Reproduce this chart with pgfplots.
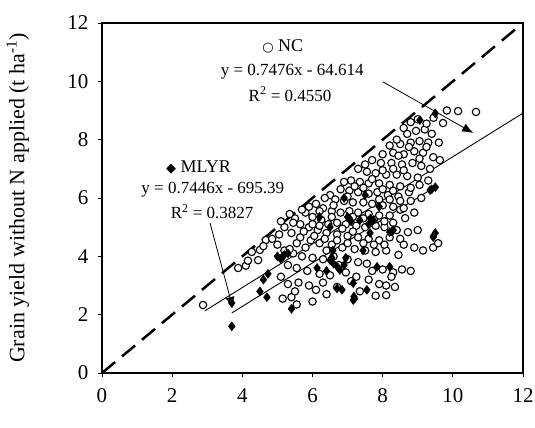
\documentclass[border=0pt]{standalone}
\usepackage{pgfplots}
\pgfplotsset{compat=1.18}
\usepackage{fontspec}
\setmainfont{Liberation Serif}
\newfontfamily\symfont{DejaVu Sans}
\usetikzlibrary{arrows.meta}

% NC: open circles
\pgfplotstableread{
x y
2.88 2.33
3.88 3.60
4.10 3.68
4.16 3.85
4.45 3.87
4.27 4.15
4.50 4.22
4.67 4.56
4.60 4.35
5.00 4.40
5.20 4.20
5.45 4.10
5.70 4.00
6.00 3.95
6.30 3.90
6.60 4.00
7.00 3.90
7.30 3.80
7.55 3.75
8.00 3.55
8.30 3.45
8.55 3.55
8.80 3.50
5.30 3.70
5.55 3.60
5.85 3.50
6.20 3.40
6.50 3.35
6.95 3.45
7.25 3.30
7.60 3.20
7.90 3.05
8.10 3.00
8.10 2.67
5.10 3.30
5.30 3.05
5.60 3.10
5.90 3.00
6.10 2.85
6.40 2.70
6.00 2.45
5.40 2.60
5.15 2.55
5.55 2.35
5.50 2.80
6.30 3.10
7.35 2.80
7.80 2.65
5.20 5.00
5.40 4.80
5.65 4.65
5.95 4.55
6.20 4.45
6.55 4.40
6.85 4.30
7.20 4.25
7.50 4.20
7.80 4.15
8.10 4.20
8.45 4.05
8.60 4.40
8.90 4.30
9.15 4.20
9.44 4.30
9.58 4.45
5.50 5.30
5.65 5.10
5.90 5.00
6.15 4.90
6.40 4.80
6.70 4.75
7.00 4.70
7.30 4.65
7.60 4.60
7.90 4.55
8.72 4.83
9.00 4.90
5.80 5.50
6.00 5.35
6.25 5.25
6.45 5.10
6.70 5.15
6.95 5.10
7.25 5.05
7.50 5.00
7.80 5.05
8.05 5.00
8.30 5.15
8.64 5.31
8.90 5.50
5.10 5.20
5.35 5.45
5.05 4.75
6.10 5.80
6.30 5.65
6.55 5.55
6.80 5.50
7.05 5.55
7.30 5.50
7.60 5.45
7.90 5.40
8.20 5.40
8.50 5.60
6.50 6.10
6.65 5.95
6.90 5.90
7.15 5.85
7.45 5.85
7.70 5.80
8.00 5.75
8.30 5.70
8.60 5.65
8.80 5.90
9.10 6.00
6.80 6.30
7.05 6.25
7.30 6.20
7.60 6.15
7.85 6.20
8.15 6.10
8.45 6.05
8.75 6.20
7.10 6.60
7.35 6.55
7.60 6.50
7.90 6.50
8.20 6.45
8.50 6.40
8.80 6.35
9.05 6.45
7.30 7.00
7.55 6.90
7.80 6.85
8.10 6.80
8.40 6.80
8.70 6.75
9.00 6.70
9.30 6.60
7.70 7.30
7.95 7.20
8.25 7.20
8.55 7.15
8.85 7.20
9.10 7.10
9.35 7.00
8.00 7.50
8.30 7.55
8.60 7.50
8.90 7.60
9.15 7.55
9.44 7.40
9.63 7.30
8.20 7.80
8.50 7.85
8.80 7.90
9.05 7.95
9.30 7.90
8.40 8.00
8.70 8.20
8.95 8.30
9.20 8.35
9.40 8.20
8.60 8.40
8.80 8.60
9.00 8.70
9.25 8.55
9.45 8.75
9.72 8.57
9.83 9.00
10.15 8.98
10.66 8.95
5.70 5.60
5.45 5.15
4.85 4.60
6.35 6.00
6.90 6.55
7.50 7.15
6.75 3.70
7.10 3.15
7.70 3.50
8.25 3.30
6.40 4.20
5.80 4.30
8.20 4.65
8.40 4.90
8.35 2.95
6.70 2.95
5.90 5.70
6.20 5.55
6.60 5.75
7.00 6.05
7.20 6.40
7.45 6.35
7.70 6.65
8.00 6.95
8.30 7.00
8.60 6.95
8.00 6.30
8.30 6.25
7.15 5.35
7.45 5.30
7.75 5.25
8.05 5.20
6.55 5.35
6.85 4.95
7.15 4.85
7.45 4.45
7.75 4.40
8.05 4.40
6.05 4.70
6.35 4.60
6.70 4.55
5.75 4.85
5.55 4.45
5.35 4.25
7.00 4.45
8.50 4.60
8.45 7.45
8.75 7.75
9.05 7.35
9.25 7.75
9.60 7.90
6.00 5.10
6.20 5.05
7.90 5.95
8.20 5.95
8.50 5.90
}\nctable

% MLYR: filled diamonds
\pgfplotstableread{
x y
3.70 1.60
3.70 2.40
4.50 2.80
4.70 2.60
5.40 2.20
4.73 3.40
4.60 3.20
5.00 4.00
5.20 4.05
5.10 3.90
5.30 4.10
5.15 4.00
6.13 3.60
6.50 3.87
6.55 3.95
6.60 3.75
6.72 3.62
6.78 3.53
6.90 3.70
6.84 2.85
7.16 2.50
7.18 2.62
7.20 2.55
7.55 2.85
7.16 3.08
7.64 4.80
8.30 4.90
8.25 4.85
7.84 3.64
8.20 3.64
7.00 5.35
7.05 5.30
7.10 5.20
7.35 5.24
7.65 5.30
7.73 5.24
7.60 5.10
6.50 5.00
9.35 6.27
9.40 6.30
9.50 6.37
9.44 4.66
9.45 4.70
9.50 4.80
6.58 4.20
6.20 5.35
7.44 4.20
8.20 4.83
9.50 8.90
9.06 8.67
7.90 5.70
6.90 6.00
7.50 6.10
6.40 3.50
6.95 3.95
6.70 2.90
}\mlyrtable

\begin{document}
\begin{tikzpicture}
\useasboundingbox (-102pt,-55pt) rectangle (433pt,373pt);
\begin{axis}[
  scale only axis,
  width=421pt, height=350pt,
  xmin=0, xmax=12, ymin=0, ymax=12,
  xtick={0,2,...,12}, ytick={0,2,...,12},
  xtick pos=bottom, ytick pos=left,
  tick align=outside,
  major tick length=4pt,
  tick style={black, line width=0.8pt},
  axis line style={black, line width=1.2pt},
  /pgf/number format/assume math mode=true,
  ticklabel style={font=\fontsize{21}{25}\selectfont},
  xticklabel style={yshift=-8pt},
  yticklabel style={xshift=-6pt},
  ylabel={Grain yield without N applied (t ha\textsuperscript{-1})},
  ylabel style={font=\fontsize{22}{26}\selectfont, at={(axis description cs:-0.2,0.5)}, anchor=center},
  clip=false,
]
\addplot[black, line width=2.5pt, dash pattern=on 17pt off 9pt] coordinates {(0,0) (12,12)};
\addplot[black, line width=0.9pt] coordinates {(2.93,2.13) (12,8.91)};
\addplot[black, line width=0.9pt] coordinates {(3.70,2.06) (9.55,6.42)};

\addplot[only marks, mark=*, mark size=3.7pt, mark options={fill=white, draw=black, line width=1.1pt}] table {\nctable};
\addplot[only marks, mark=diamond*, mark size=4.5pt, mark options={fill=black, draw=black}] table {\mlyrtable};

\draw[-{Latex[length=11pt,width=9pt]}, line width=0.8pt] (axis cs:8.01,9.98) -- (axis cs:10.58,8.23);
\draw[-{Latex[length=11pt,width=9pt]}, line width=0.8pt] (axis cs:3.08,5.14) -- (axis cs:3.73,2.23);

\node[font=\fontsize{18}{21}\selectfont] at (axis cs:5.15,11.2) {{\symfont\fontsize{13}{15}\selectfont ○}\ NC};
\node[font=\fontsize{17}{20}\selectfont] at (axis cs:5.42,10.32) {y = 0.7476x - 64.614};
\node[font=\fontsize{17}{20}\selectfont] at (axis cs:5.36,9.56) {R\textsuperscript{2} = 0.4550};

\node[font=\fontsize{18}{21}\selectfont] at (axis cs:2.75,7.06) {{\symfont\fontsize{13}{15}\selectfont ◆}\ MLYR};
\node[font=\fontsize{17}{20}\selectfont] at (axis cs:3.16,6.27) {y = 0.7446x - 695.39};
\node[font=\fontsize{17}{20}\selectfont] at (axis cs:3.14,5.52) {R\textsuperscript{2} = 0.3827};
\end{axis}
\end{tikzpicture}
\end{document}
